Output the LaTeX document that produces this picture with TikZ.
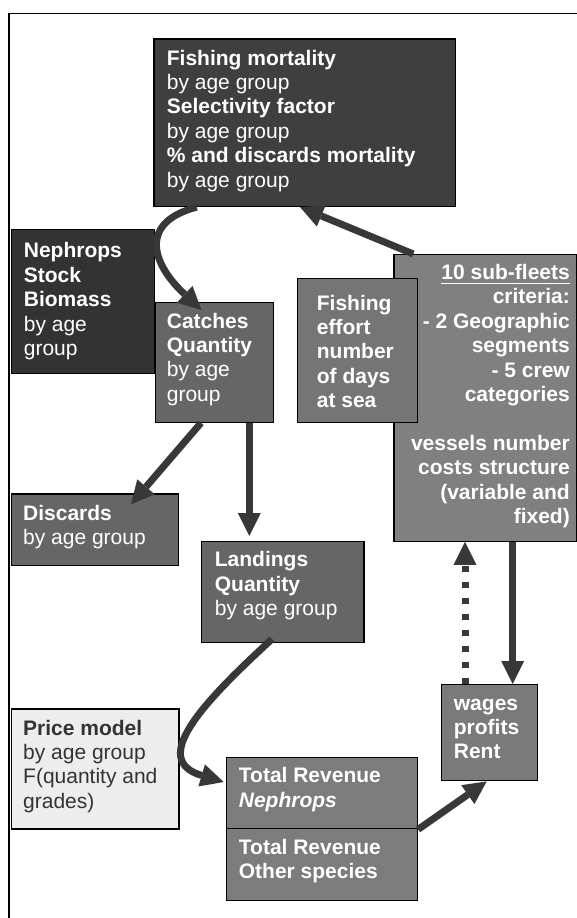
\documentclass[tikz,border=0pt]{standalone}
\usepackage{fontspec}
\setmainfont{Liberation Sans}
\usetikzlibrary{arrows.meta}
\definecolor{cfm}{HTML}{3F3F3F}
\definecolor{cns}{HTML}{333333}
\definecolor{cmid}{HTML}{666666}
\definecolor{cfe}{HTML}{757575}
\definecolor{csf}{HTML}{808080}
\definecolor{cwg}{HTML}{7A7A7A}
\definecolor{ctr}{HTML}{7C7C7C}
\definecolor{cpm}{HTML}{EDEDED}
\definecolor{carr}{HTML}{383838}
\definecolor{cdtxt}{HTML}{333333}
\newcommand\ulbox[1]{\setbox0\hbox{#1}\rlap{\rule[-4.8pt]{\wd0}{1.6pt}}\box0}
\tikzset{
  box/.style={draw=black, line width=1.4pt, inner sep=0pt, anchor=north west},
  txt/.style={inner sep=0pt, anchor=north west, align=left, text=white,
              font=\fontsize{21}{24.4}\selectfont},
  arr/.style={draw=carr, line width=7pt,
              -{Triangle[width=23pt,length=23pt,line width=0pt]}},
  dotarr/.style={arr, dash pattern=on 6.5pt off 9.5pt}
}
\begin{document}
\begin{tikzpicture}[x=1pt,y=-1pt]
\useasboundingbox (0,0) rectangle (577,918);
\fill[white] (0,0) rectangle (577,918);
% outer frame
\draw[line width=1.4pt] (9,918) -- (9,13.3) -- (577,13.3);

% boxes
\node[box, fill=cfm, minimum width=301.7pt, minimum height=167.4pt] (fm) at (153.3,38.3) {};
\node[box, fill=cns, minimum width=143pt, minimum height=144pt] (ns) at (11,229) {};
\node[box, fill=cmid, minimum width=118.5pt, minimum height=119.5pt] (ca) at (154.5,302) {};
\node[box, fill=csf, minimum width=183pt, minimum height=286.5pt] (sf) at (393.3,254) {};
\node[box, fill=cfe, minimum width=120pt, minimum height=144pt] (fe) at (296.7,278) {};
\node[box, fill=cmid, minimum width=166.7pt, minimum height=71.7pt] (di) at (11,493.3) {};
\node[box, fill=cmid, minimum width=162.3pt, minimum height=101pt] (la) at (201,540.7) {};
\node[box, fill=cpm, minimum width=167.8pt, minimum height=120pt] (pm) at (10.5,708.3) {};
\node[box, fill=ctr, minimum width=191pt, minimum height=71pt] (trn) at (225.7,757) {};
\node[box, fill=ctr, minimum width=191pt, minimum height=72pt] (tro) at (225.7,828) {};
\node[box, fill=cwg, minimum width=96pt, minimum height=96pt] (wg) at (440.7,684) {};

% texts
\node[txt] (tfm) at (166.7,47.9) {\strut\textbf{Fishing mortality}\\by age group\\\textbf{Selectivity factor}\\by age group\\\textbf{\% and discards mortality}\\by age group};
\node[txt] (tns) at (23.7,240.7) {\strut\textbf{Nephrops}\\\textbf{Stock}\\\textbf{Biomass}\\by age\\group};
\node[txt] (tca) at (166.7,310.9) {\strut\textbf{Catches}\\\textbf{Quantity}\\by age\\group};
\node[txt, font=\fontsize{21}{24.4}\selectfont\bfseries] (tfe) at (316.7,292.9) {\strut Fishing\\effort\\number\\of days\\at sea};
\node[txt, anchor=north east, align=right, font=\fontsize{21}{24.4}\selectfont\bfseries] (tsf) at (570,262.2) {\strut\ulbox{10 sub-fleets}\\criteria:\\- 2 Geographic\\segments\\- 5 crew\\categories\\[24.4pt]vessels number\\costs structure\\(variable and\\fixed)};
\node[txt] (tdi) at (23,502.9) {\strut\textbf{Discards}\\by age group};
\node[txt] (tla) at (214.7,549.6) {\strut\textbf{Landings}\\\textbf{Quantity}\\by age group};
\node[txt, text=cdtxt] (tpm) at (23,717.9) {\strut\textbf{Price model}\\by age group\\F(quantity and\\grades)};
\node[txt] (ttrn) at (238.7,765.6) {\strut\textbf{Total Revenue}\\\textbf{\itshape Nephrops}};
\node[txt] (ttro) at (238.7,837.2) {\strut\textbf{Total Revenue}\\\textbf{Other species}};
\node[txt, font=\fontsize{21}{24.4}\selectfont\bfseries] (twg) at (453.7,692.9) {\strut wages\\profits\\Rent};

% connectors
\draw[arr] ([xshift=43.4pt]fm.south west) .. controls (140,222) and (150,262) .. ([xshift=47pt,yshift=-8pt]ca.north west);
\draw[arr] ([xshift=20pt]sf.north west) -- ([xshift=146.7pt]fm.south west);
\draw[arr] ([xshift=46.5pt]ca.south west) -- ([xshift=120pt,yshift=-11pt]di.north west);
\draw[arr] ([xshift=94.8pt]ca.south west) -- ([xshift=48.3pt,yshift=4.7pt]la.north west);
\draw[arr] ([xshift=71pt,yshift=4pt]la.south west) .. controls (200,705) and (150,760) .. ([xshift=-2pt,yshift=-25pt]trn.north west);
\draw[arr] (trn.south east) -- ([xshift=46pt]wg.south west);
\draw[arr] ([xshift=119.4pt]sf.south west) -- ([xshift=72pt]wg.north west);
\draw[dotarr] ([xshift=24.3pt]wg.north west) -- ([xshift=71.7pt]sf.south west);
\end{tikzpicture}
\end{document}
